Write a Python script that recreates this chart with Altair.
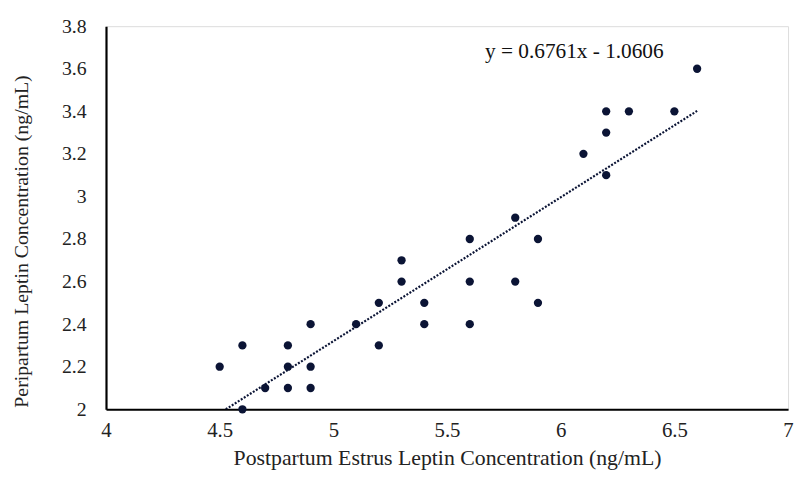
import altair as alt
import pandas as pd

x_vals = [4.5, 4.6, 4.6, 4.7, 4.8, 4.8, 4.8, 4.9, 4.9, 4.9, 5.1, 5.2, 5.2, 5.3, 5.3,
          5.4, 5.4, 5.6, 5.6, 5.6, 5.8, 5.8, 5.9, 5.9, 6.1, 6.2, 6.2, 6.2, 6.3, 6.5, 6.6]
y_vals = [2.2, 2.3, 2.0, 2.1, 2.3, 2.2, 2.1, 2.4, 2.2, 2.1, 2.4, 2.5, 2.3, 2.7, 2.6,
          2.5, 2.4, 2.8, 2.6, 2.4, 2.9, 2.6, 2.8, 2.5, 3.2, 3.4, 3.3, 3.1, 3.4, 3.4, 3.6]
slope = 0.6761
intercept = -1.0606
equation_label = "y = 0.6761x - 1.0606"
x_ticks = [4, 4.5, 5, 5.5, 6, 6.5, 7]
y_ticks = [2, 2.2, 2.4, 2.6, 2.8, 3, 3.2, 3.4, 3.6, 3.8]

pts = pd.DataFrame({"x": x_vals, "y": y_vals})
x0 = (2.0 - intercept) / slope
x1 = max(x_vals)
trend = pd.DataFrame({"x": [x0, x1], "y": [slope * x0 + intercept, slope * x1 + intercept]})
eq = pd.DataFrame({"x": [6.06], "y": [3.651], "t": [equation_label]})

FONT = "'Liberation Serif', 'Times New Roman', Times, serif"
navy = "#0b1435"

xs = alt.Scale(domain=[4, 7], nice=False, zero=False)
ys = alt.Scale(domain=[2, 3.8], nice=False, zero=False)

xax = alt.Axis(values=x_ticks, format="~g", title="Postpartum Estrus Leptin Concentration (ng/mL)",
               grid=False, ticks=False, domainColor="black", domainWidth=2.2,
               labelFont=FONT, labelFontSize=21, labelColor="#222", labelPadding=28,
               labelBaseline="alphabetic",
               titleFont=FONT, titleFontSize=22, titleFontWeight="normal", titleColor="#222",
               titleY=56, titleBaseline="alphabetic", labelFlush=False)
yax = alt.Axis(values=y_ticks, format="~g", title="Peripartum Leptin Concentration (ng/mL)",
               grid=False, ticks=False, domainColor="black", domainWidth=2.2,
               labelFont=FONT, labelFontSize=20, labelColor="#222", labelPadding=20,
               titleFont=FONT, titleFontSize=20, titleFontWeight="normal", titleColor="#222",
               titleX=-85, titleY=217, titleBaseline="middle", labelFlush=False)

points = alt.Chart(pts).mark_circle(size=70, color=navy, opacity=1).encode(
    x=alt.X("x:Q", scale=xs, axis=xax),
    y=alt.Y("y:Q", scale=ys, axis=yax),
)
line = alt.Chart(trend).mark_line(color=navy, strokeWidth=2.2, strokeDash=[2, 1.6], clip=True).encode(
    x=alt.X("x:Q", scale=xs), y=alt.Y("y:Q", scale=ys)
)
text = alt.Chart(eq).mark_text(font=FONT, fontSize=21.5, color="#111", baseline="alphabetic").encode(
    x=alt.X("x:Q", scale=xs), y=alt.Y("y:Q", scale=ys), text="t:N"
)

chart = alt.layer(line, points, text).properties(
    width=689, height=387,
    autosize=alt.AutoSizeParams(type="none"),
    padding={"left": 99, "top": 16, "right": 6, "bottom": 60},
).configure_view(stroke=None).configure(background="white")

chart.save("out.html", embed_options={"renderer": "svg", "actions": False})
